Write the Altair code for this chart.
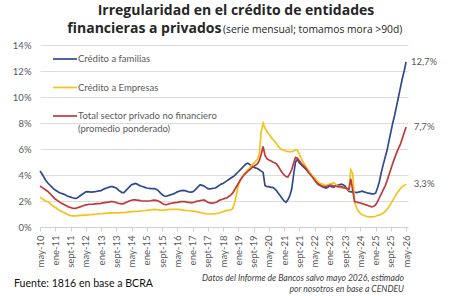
import json
import altair as alt
import pandas as pd

tick_labels = ["may-10", "ene-11", "sept-11", "may-12", "ene-13", "sept-13", "may-14",
               "ene-15", "sept-15", "may-16", "ene-17", "sept-17", "may-18", "ene-19",
               "sept-19", "may-20", "ene-21", "sept-21", "may-22", "ene-23", "sept-23",
               "may-24", "ene-25", "sept-25", "may-26"]

# monthly values, may-10 .. may-26 (one row per year starting in May)
familias = [
    4.3, 4.1, 3.85, 3.6, 3.4, 3.25, 3.1, 2.95, 2.85, 2.75, 2.65, 2.6,
    2.55, 2.5, 2.4, 2.35, 2.3, 2.25, 2.22, 2.2, 2.28, 2.4, 2.5, 2.6,
    2.7, 2.72, 2.7, 2.68, 2.7, 2.72, 2.75, 2.78, 2.8, 2.88, 2.95, 3.0,
    3.05, 3.1, 3.1, 3.05, 3.0, 2.85, 2.75, 2.65, 2.65, 2.8, 2.95, 3.1,
    3.25, 3.3, 3.35, 3.3, 3.2, 3.15, 3.1, 3.05, 3.0, 2.98, 2.95, 2.95,
    2.95, 2.9, 2.8, 2.65, 2.5, 2.4, 2.35, 2.4, 2.45, 2.5, 2.55, 2.62,
    2.7, 2.75, 2.8, 2.82, 2.8, 2.75, 2.7, 2.68, 2.7, 2.8, 2.95, 3.1,
    3.25, 3.2, 3.15, 3.05, 2.95, 2.93, 2.95, 2.98, 3.0, 3.1, 3.2, 3.3,
    3.35, 3.45, 3.55, 3.65, 3.75, 3.85, 3.95, 4.1, 4.25, 4.4, 4.55, 4.7,
    4.85, 4.9, 4.8, 4.7, 4.6, 4.55, 4.5, 4.4, 4.3, 4.2, 3.2, 3.1,
    3.1, 3.05, 3.05, 2.95, 2.8, 2.6, 2.4, 2.2, 2.0, 1.9, 2.1, 2.4,
    2.9, 4.0, 5.0, 5.2, 4.95, 4.8, 4.65, 4.5, 4.35, 4.2, 4.05, 3.9,
    3.7, 3.5, 3.35, 3.2, 3.1, 3.05, 3.0, 3.05, 3.15, 3.1, 3.05, 3.15,
    3.2, 3.25, 3.3, 3.25, 3.15, 2.95, 2.75, 2.7, 2.72, 2.68, 2.65, 2.68,
    2.72, 2.75, 2.7, 2.65, 2.6, 2.58, 2.55, 2.55, 2.6, 3.0, 3.5, 4.2,
    4.8, 5.35, 5.9, 6.6, 7.3, 8.0, 8.6, 9.3, 10.0, 10.7, 11.4, 12.0,
    12.7]

empresas = [
    2.3, 2.2, 2.1, 2.0, 1.95, 1.85, 1.7, 1.6, 1.5, 1.4, 1.3, 1.22,
    1.15, 1.08, 1.0, 0.93, 0.88, 0.85, 0.85, 0.86, 0.88, 0.89, 0.9, 0.91,
    0.92, 0.93, 0.95, 0.96, 0.97, 0.98, 1.0, 1.01, 1.02, 1.03, 1.05, 1.06,
    1.07, 1.08, 1.08, 1.08, 1.08, 1.09, 1.1, 1.1, 1.1, 1.12, 1.15, 1.17,
    1.18, 1.19, 1.2, 1.21, 1.22, 1.23, 1.25, 1.27, 1.28, 1.3, 1.32, 1.34,
    1.35, 1.34, 1.32, 1.3, 1.28, 1.3, 1.32, 1.34, 1.36, 1.36, 1.36, 1.36,
    1.35, 1.34, 1.33, 1.3, 1.28, 1.27, 1.25, 1.23, 1.22, 1.2, 1.18, 1.15,
    1.12, 1.08, 1.05, 1.02, 1.0, 1.0, 1.0, 1.01, 1.02, 1.05, 1.08, 1.12,
    1.18, 1.22, 1.28, 1.3, 1.32, 1.4, 1.8, 2.5, 3.2, 3.6, 3.85, 4.05,
    4.2, 4.4, 4.55, 4.75, 4.9, 5.05, 5.2, 5.6, 7.3, 8.0, 7.6, 7.35,
    7.15, 6.95, 6.75, 6.6, 6.4, 6.2, 6.05, 5.95, 5.9, 5.85, 5.8, 5.8,
    5.8, 5.85, 5.95, 5.9, 5.6, 5.3, 5.0, 4.75, 4.5, 4.3, 4.1, 3.9,
    3.8, 3.6, 3.45, 3.35, 3.3, 3.25, 3.2, 3.25, 3.3, 3.35, 3.4, 3.3,
    3.15, 3.05, 3.0, 3.0, 3.0, 2.95, 2.85, 4.4, 4.1, 1.9, 1.5, 1.2,
    1.05, 0.95, 0.88, 0.83, 0.8, 0.78, 0.78, 0.8, 0.83, 0.88, 0.93, 1.0,
    1.08, 1.2, 1.35, 1.55, 1.8, 2.05, 2.3, 2.55, 2.75, 2.95, 3.1, 3.2,
    3.3]

total = [
    3.15, 3.05, 2.95, 2.85, 2.75, 2.6, 2.45, 2.3, 2.15, 2.05, 1.95, 1.85,
    1.78, 1.7, 1.62, 1.55, 1.5, 1.45, 1.43, 1.45, 1.5, 1.55, 1.6, 1.65,
    1.7, 1.72, 1.75, 1.75, 1.76, 1.78, 1.8, 1.8, 1.82, 1.85, 1.88, 1.9,
    1.92, 1.95, 1.95, 1.92, 1.88, 1.83, 1.8, 1.78, 1.8, 1.88, 1.95, 2.02,
    2.06, 2.08, 2.08, 2.06, 2.05, 2.02, 2.0, 2.0, 2.0, 2.0, 2.02, 2.05,
    2.06, 2.05, 2.0, 1.92, 1.82, 1.75, 1.72, 1.75, 1.8, 1.83, 1.86, 1.88,
    1.9, 1.93, 1.95, 1.96, 1.95, 1.92, 1.9, 1.88, 1.88, 1.92, 1.97, 2.0,
    2.03, 2.06, 2.08, 2.0, 1.9, 1.85, 1.84, 1.85, 1.88, 1.95, 2.05, 2.1,
    2.15, 2.2, 2.25, 2.35, 2.45, 2.6, 2.85, 3.1, 3.35, 3.6, 3.8, 4.0,
    4.15, 4.3, 4.4, 4.55, 4.65, 4.75, 4.85, 5.1, 5.6, 6.2, 5.5, 5.25,
    5.15, 5.1, 5.0, 4.95, 4.85, 4.65, 4.4, 4.2, 4.0, 3.88, 3.85, 4.1,
    4.4, 4.9, 5.35, 5.3, 5.1, 4.9, 4.75, 4.6, 4.4, 4.15, 4.0, 3.8,
    3.6, 3.4, 3.25, 3.2, 3.15, 3.1, 3.1, 3.15, 3.2, 3.2, 3.15, 3.15,
    3.1, 3.1, 3.1, 3.05, 3.0, 2.95, 2.9, 3.7, 2.8, 1.95, 1.92, 1.88,
    1.85, 1.8, 1.75, 1.7, 1.65, 1.6, 1.55, 1.6, 1.7, 1.95, 2.25, 2.55,
    2.85, 3.15, 3.55, 4.0, 4.45, 4.9, 5.3, 5.7, 6.05, 6.35, 6.8, 7.25,
    7.7]

series_names = ["Crédito a familias", "Crédito a Empresas", "Total sector privado no financiero"]
series_colors = ["#2F4A8E", "#F6C21C", "#C0393B"]

FONT = "Lato"
GRAY = "#595959"

rows = []
for name, vals in zip(series_names, [familias, empresas, total]):
    for i, v in enumerate(vals):
        rows.append({"m": i, "v": v, "serie": name})
df = pd.DataFrame(rows)

end_rows = []
for name, vals in zip(series_names, [familias, empresas, total]):
    end_rows.append({"m": len(vals) - 1, "v": vals[-1], "serie": name,
                     "lbl": f"{vals[-1]:.1f}".replace(".", ",") + "%"})
df_end = pd.DataFrame(end_rows)
one = pd.DataFrame({"k": [0]})

label_expr = json.dumps(tick_labels) + "[round(datum.value / 8)]"

x_enc = alt.X("m:Q",
              scale=alt.Scale(domain=[0, 193], nice=False, zero=False),
              axis=alt.Axis(values=list(range(0, 193, 8)), labelExpr=label_expr,
                            labelAngle=270, labelAlign="right", labelBaseline="middle",
                            labelPadding=4, labelFontSize=9.5, labelColor=GRAY, labelFont=FONT,
                            grid=False, domainColor="#D0D0D0", tickColor="#D0D0D0", tickSize=4,
                            title=None, labelOverlap=False, labelFlush=False))
y_enc = alt.Y("v:Q",
              scale=alt.Scale(domain=[0, 14], nice=False),
              axis=alt.Axis(values=list(range(0, 15, 2)), labelExpr="datum.value + '%'",
                            labelFontSize=9.5, labelColor=GRAY, labelFont=FONT, labelPadding=9,
                            grid=True, gridColor="#DCDCDC", gridWidth=1, domain=False, ticks=False,
                            title=None, labelOverlap=False, labelFlush=False))
color_enc = alt.Color("serie:N", scale=alt.Scale(domain=series_names, range=series_colors), legend=None)

lines = alt.Chart(df).mark_line(strokeWidth=1.7).encode(x=x_enc, y=y_enc, color=color_enc)

end_labels = alt.Chart(df_end).mark_text(align="center", baseline="middle", dx=18, fontSize=9.5,
                                         font=FONT, color=GRAY).encode(
    x=x_enc, y=y_enc, text="lbl:N")

# manual legend
leg = []
leg_y = [14, 42.5, 71]
for name, col, yy in zip(series_names, series_colors, leg_y):
    leg.append(alt.Chart(one).mark_rule(color=col, strokeWidth=1.7).encode(
        x=alt.value(13), x2=alt.value(37), y=alt.value(yy)))
    leg.append(alt.Chart(one).mark_text(align="left", baseline="middle", fontSize=9.5,
                                        font=FONT, color=GRAY, text=name).encode(
        x=alt.value(38), y=alt.value(yy)))
leg.append(alt.Chart(one).mark_text(align="left", baseline="middle", fontSize=9.5,
                                    font=FONT, color=GRAY, text="(promedio ponderado)").encode(
    x=alt.value(38), y=alt.value(84)))


def txt(s, x, y, size, weight="normal", align="left", style="normal", color="#262626", font=FONT):
    return alt.Chart(one).mark_text(align=align, baseline="alphabetic", fontSize=size,
                                    fontWeight=weight, fontStyle=style, font=font,
                                    color=color, text=s).encode(
        x=alt.value(x), y=alt.value(y))


title1 = txt("Irregularidad en el crédito de entidades", 196, -30.5, 14, "bold", "center", font="Open Sans")
title2 = txt("financieras a privados", 181.5, -12, 14, "bold", "right", font="Open Sans")
title3 = txt("(serie mensual; tomamos mora >90d)", 183, -12, 10.3, "normal", "left", font="Open Sans")
foot1 = txt("Fuente: 1816 en base a BCRA", -26, 241.5, 10.6, color="#111111")
foot2 = txt("Datos del Informe de Bancos salvo mayo 2026, estimado", 364, 235.5, 8.6,
            align="right", style="italic", color="#404040")
foot3 = txt("por nosotros en base a CENDEU", 364, 247, 8.6,
            align="right", style="italic", color="#404040")

chart = alt.layer(lines, end_labels, *leg, title1, title2, title3, foot1, foot2, foot3).properties(
    width=368, height=182,
    autosize=alt.AutoSizeParams(type="none"),
    padding={"left": 40, "top": 45, "right": 41, "bottom": 69},
    background="white",
).configure_view(stroke=None).configure_axis(labelOverlap=False)

chart.save("out.html", embed_options={"renderer": "svg", "actions": False})
